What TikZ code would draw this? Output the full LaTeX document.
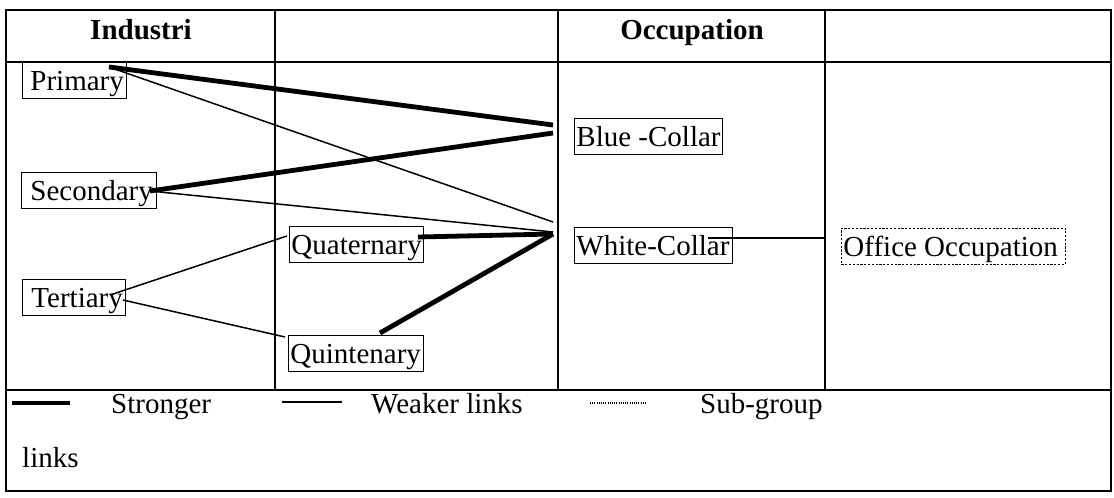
\documentclass[tikz,border=0pt]{standalone}
\usepackage{fontspec}
\setmainfont{Liberation Serif}
\newcommand{\lbx}[3]{\makebox[#1][l]{\hspace{#2}#3}}
\begin{document}
\begin{tikzpicture}[x=1pt,y=-1pt,
  txt/.style={font=\fontsize{29}{34}\selectfont, inner sep=0pt, anchor=base west},
  hdr/.style={font=\fontsize{29}{34}\selectfont\bfseries, inner sep=0pt, anchor=base},
  catbox/.style={draw, line width=0.9pt, font=\fontsize{29}{34}\selectfont, inner xsep=0pt, inner ysep=0pt, text height=28pt, text depth=8pt, anchor=base west},
  subbox/.style={catbox, dash pattern=on 2.2pt off 1.6pt},
  frame/.style={line width=1.8pt},
  strong/.style={line width=4.8pt},
  weak/.style={line width=1.5pt},
  sub/.style={line width=1.2pt, dash pattern=on 1pt off 1.2pt}]
\useasboundingbox (0,0) rectangle (1114,498);
% table
\draw[frame] (6,10) rectangle (1111,491);
\draw[frame] (6,62) -- (1111,62);
\draw[frame] (6,390) -- (1111,390);
\draw[frame] (275,10) -- (275,390);
\draw[frame] (558,10) -- (558,390);
\draw[frame] (825,10) -- (825,390);
% headers
\node[hdr] (hind) at (141,39) {Industri};
\node[hdr] (hocc) at (692,39) {Occupation};
% boxes
\node[catbox] (prim) at (22,90) {\lbx{104pt}{8pt}{Primary}};
\node[catbox] (sec) at (21,200) {\lbx{135pt}{9pt}{Secondary}};
\node[catbox] (ter) at (22,307) {\lbx{103pt}{9pt}{Tertiary}};
\node[catbox] (qua) at (289,254) {\lbx{134pt}{2pt}{Quaternary}};
\node[catbox] (qui) at (288,363) {\lbx{135pt}{2pt}{Quintenary}};
\node[catbox] (blue) at (574,146) {\lbx{148pt}{2pt}{Blue -Collar}};
\node[catbox] (white) at (574,255) {\lbx{158pt}{2pt}{White-Collar}};
\node[subbox] (office) at (841,256) {\lbx{224pt}{2pt}{Office Occupation}};
% connector end points
\coordinate (pA) at (109,67);
\coordinate (sA) at (150,191);
\coordinate (tA) at (110,295);
\coordinate (tB) at (123,300);
\coordinate (bA) at (553,125);
\coordinate (bB) at (553,133);
\coordinate (wP) at (553,222);
\coordinate (wA) at (553,234);
\coordinate (wB) at (553,232);
\coordinate (qA) at (418,237);
\coordinate (qB) at (287,236);
\coordinate (uA) at (380,333);
\coordinate (uB) at (285,337);
\coordinate (wC) at (708,238);
\coordinate (oA) at (825,238);
% links
\draw[strong] (pA) -- (bA);
\draw[strong] (sA) -- (bB);
\draw[weak] (pA) -- (wP);
\draw[weak] (sA) -- (wB);
\draw[strong] (qA) -- (wA);
\draw[strong] (uA) -- (wA);
\draw[weak] (tA) -- (qB);
\draw[weak] (tB) -- (uB);
\draw[weak] (wC) -- (oA);
% legend
\coordinate (l1a) at (12,403);
\coordinate (l1b) at (70,403);
\coordinate (l2a) at (282,402);
\coordinate (l2b) at (342,402);
\coordinate (l3a) at (590,403);
\coordinate (l3b) at (647,403);
\draw[strong] (l1a) -- (l1b);
\draw[weak] (l2a) -- (l2b);
\draw[sub] (l3a) -- (l3b);
\node[txt] (lstr) at (111,413) {Stronger};
\node[txt] (lweak) at (371,413) {Weaker links};
\node[txt] (lsub) at (700,413) {Sub-group};
\node[txt] (llinks) at (22,467) {links};
\end{tikzpicture}
\end{document}
